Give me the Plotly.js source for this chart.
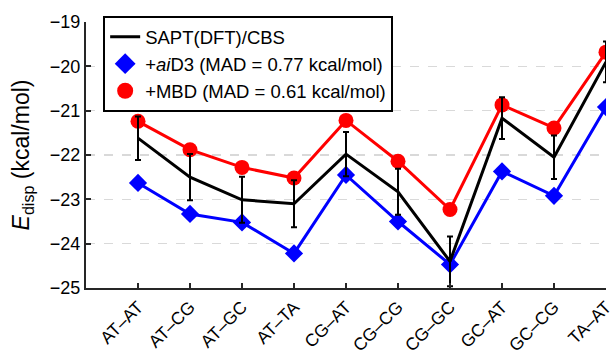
<!DOCTYPE html>
<html>
<head>
<meta charset="utf-8">
<script src="https://cdn.plot.ly/plotly-3.0.1.min.js"></script>
<style>html,body{margin:0;padding:0;background:#fff;}#chart{width:616px;height:351px;}</style>
</head>
<body>
<div id="chart"></div>
<script>
const categories = ["AT–AT","AT–CG","AT–GC","AT–TA","CG–AT","CG–CG","CG–GC","GC–AT","GC–CG","TA–AT"];
const saptValues = [-21.62, -22.50, -23.01, -23.10, -21.98, -22.83, -24.40, -21.17, -22.05, -19.90];
const saptErrors = [0.49, 0.52, 0.52, 0.53, 0.50, 0.52, 0.56, 0.47, 0.49, 0.46];
const aiD3Values = [-22.63, -23.33, -23.52, -24.22, -22.45, -23.50, -24.47, -22.37, -22.92, -20.92];
const mbdValues  = [-21.24, -21.88, -22.28, -22.52, -21.22, -22.14, -23.23, -20.87, -21.39, -19.68];
const yTickVals = [-25, -24, -23, -22, -21, -20, -19];

const FONT = "Liberation Sans, Arial, Helvetica, sans-serif";
const aiD3Name = "+<i>ai</i>D3 (MAD = 0.77 kcal/mol)";
const mbdName = "+MBD (MAD = 0.61 kcal/mol)";

const traces = [
  {
    x: categories, y: aiD3Values, type: "scatter", mode: "lines+markers",
    name: aiD3Name, showlegend: false,
    line: {color: "#0000ff", width: 3},
    marker: {symbol: "diamond", size: 14, color: "#0000ff"}
  },
  {
    x: categories, y: mbdValues, type: "scatter", mode: "lines+markers",
    name: mbdName, showlegend: false,
    line: {color: "#ff0000", width: 3},
    marker: {symbol: "circle", size: 15, color: "#ff0000"}
  },
  {
    x: categories, y: saptValues, type: "scatter", mode: "lines",
    name: "SAPT(DFT)/CBS", legendrank: 1,
    line: {color: "#000000", width: 3},
    error_y: {type: "data", array: saptErrors, visible: true, color: "#000000", thickness: 2, width: 3}
  },
  {
    x: [categories[0]], y: [null], type: "scatter", mode: "markers",
    name: aiD3Name, legendrank: 2,
    marker: {symbol: "diamond", size: 16, color: "#0000ff"}
  },
  {
    x: [categories[0]], y: [null], type: "scatter", mode: "markers",
    name: mbdName, legendrank: 3,
    marker: {symbol: "circle", size: 16, color: "#ff0000"}
  }
];

const layout = {
  width: 616, height: 351,
  margin: {l: 86, r: 10, t: 22, b: 63, pad: 0},
  paper_bgcolor: "#ffffff", plot_bgcolor: "#ffffff",
  font: {family: FONT, size: 18, color: "#000"},
  showlegend: true,
  legend: {
    x: 0.033, y: 1.022, xanchor: "left", yanchor: "top",
    bordercolor: "#000", borderwidth: 2, bgcolor: "#fff",
    font: {family: FONT, size: 18.5, color: "#000"},
    tracegroupgap: 0, itemsizing: "trace"
  },
  xaxis: {
    type: "category", range: [-1, 9],
    showline: true, linecolor: "#262626", linewidth: 2,
    ticks: "inside", ticklen: 5, tickwidth: 2, tickcolor: "#262626",
    tickangle: -45, tickfont: {family: FONT, size: 17.5, color: "#000"},
    showgrid: false, zeroline: false, fixedrange: true
  },
  yaxis: {
    range: [-25, -19], tickvals: yTickVals,
    showline: true, linecolor: "#262626", linewidth: 2,
    ticks: "inside", ticklen: 5, tickwidth: 2, tickcolor: "#262626",
    tickfont: {family: FONT, size: 18, color: "#000"},
    showgrid: true, gridcolor: "#d9d9d9", gridwidth: 1.5, griddash: "dash",
    zeroline: false,
    title: {text: "<i>E</i><sub>disp</sub> (kcal/mol)", font: {family: FONT, size: 23, color: "#000"}, standoff: 14}
  }
};

Plotly.newPlot("chart", traces, layout, {staticPlot: true, displayModeBar: false});
</script>
</body>
</html>
